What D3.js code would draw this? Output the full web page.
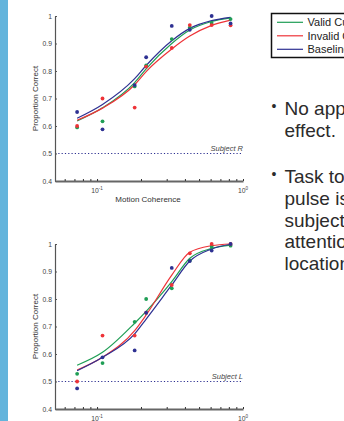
<!DOCTYPE html>
<html>
<head>
<meta charset="utf-8">
<script src="https://cdn.jsdelivr.net/npm/d3@7/dist/d3.min.js"></script>
<style>
body { margin: 0; background: #ffffff; }
#chart { width: 344px; height: 421px; overflow: hidden; }
text { font-family: "Liberation Sans", Arial, sans-serif; }
</style>
</head>
<body>
<div id="chart"></div>
<script>

/*
DATA
*/
const coherence = [0.073, 0.109, 0.181, 0.217, 0.325, 0.432, 0.610, 0.822];

// subject R - measured points
const validR_pts   = [0.595, 0.617, 0.744, 0.820, 0.916, 0.958, 0.975, 0.989];
const invalidR_pts = [0.600, 0.700, 0.667, 0.816, 0.884, 0.967, 0.967, 0.966];
const baseR_pts    = [0.651, 0.588, 0.749, 0.850, 0.964, 0.950, 1.000, 0.973];
// subject R - fitted curves
const validR_fit   = [0.618, 0.666, 0.758, 0.808, 0.900, 0.949, 0.980, 0.993];
const invalidR_fit = [0.621, 0.665, 0.750, 0.798, 0.880, 0.927, 0.966, 0.985];
const baseR_fit    = [0.628, 0.678, 0.772, 0.820, 0.910, 0.955, 0.983, 0.995];

// subject L - measured points
const validL_pts   = [0.528, 0.567, 0.717, 0.800, 0.839, 0.940, 0.990, 0.994];
const invalidL_pts = [0.500, 0.667, 0.667, 0.750, 0.851, 0.966, 1.000, 1.000];
const baseL_pts    = [0.475, 0.588, 0.613, 0.750, 0.913, 0.938, 0.976, 1.000];
// subject L - fitted curves
const validL_fit   = [0.559, 0.606, 0.712, 0.755, 0.863, 0.948, 0.984, 0.996];
const invalidL_fit = [0.542, 0.588, 0.685, 0.742, 0.887, 0.970, 0.994, 1.000];
const baseL_fit    = [0.539, 0.588, 0.673, 0.727, 0.851, 0.938, 0.982, 0.999];

const yTicks = [0.4, 0.5, 0.6, 0.7, 0.8, 0.9, 1];
const yTickLabels = ["0.4", "0.5", "0.6", "0.7", "0.8", "0.9", "1"];
const xMinorTicks = [0.06, 0.07, 0.08, 0.09, 0.1, 0.2, 0.3, 0.4, 0.5, 0.6, 0.7, 0.8, 0.9, 1];
const xLabels = [{v: 0.1, exp: "-1"}, {v: 1, exp: "0"}];

const legendNames = ["Valid Cue", "Invalid Cue", "Baseline"];
const colors = ["#1f9e55", "#ee3338", "#2e3192"];

const bullet1 = ["No apparent cueing", "effect."];
const bullet2 = ["Task too easy? Once the", "pulse is shown the", "subject can shift", "attention to either", "location."];


/*
CREATE SVG CANVAS
*/
const width = 344;
const height = 421;

const svg = d3.select("#chart")
    .append("svg")
    .attr("width", width)
    .attr("height", height);

svg.append("rect")
    .attr("x", 0)
    .attr("y", 0)
    .attr("width", 8)
    .attr("height", height)
    .attr("fill", "#63b4dc");

const xScale = d3.scaleLog()
    .domain([0.0515, 1])
    .range([55, 243]);


/*
DRAW ONE PANEL
*/
function drawPanel(top, bottom, pts, fits, subject) {

    const yScale = d3.scaleLinear()
        .domain([0.4, 1])
        .range([bottom, top]);

    const g = svg.append("g");

    // chance line
    g.append("line")
        .attr("x1", xScale(0.0515))
        .attr("x2", xScale(1))
        .attr("y1", yScale(0.5))
        .attr("y2", yScale(0.5))
        .attr("stroke", "#2e3192")
        .attr("stroke-width", 1.2)
        .attr("stroke-dasharray", "1.2,2.1");

    g.append("text")
        .attr("x", xScale(1))
        .attr("y", yScale(0.5) - 2.5)
        .attr("text-anchor", "end")
        .attr("font-size", "7.5px")
        .attr("font-style", "italic")
        .attr("fill", "#444")
        .text(subject);

    // axes
    const yAxis = g.append("g")
        .attr("transform", `translate(${xScale(0.0515)},0)`)
        .call(d3.axisLeft(yScale)
            .tickValues(yTicks)
            .tickFormat(function(d, i) { return yTickLabels[i]; })
            .tickSize(-2)
            .tickSizeOuter(0)
            .tickPadding(3));
    yAxis.select(".domain").attr("stroke", "#555").attr("stroke-width", 1.2);
    yAxis.selectAll(".tick line").attr("stroke", "#555");
    yAxis.selectAll(".tick text")
        .attr("font-size", "6.8px")
        .attr("font-family", "Liberation Sans, Arial, sans-serif")
        .attr("fill", "#444");

    const xAxis = g.append("g")
        .attr("transform", `translate(0,${bottom})`)
        .call(d3.axisBottom(xScale)
            .tickValues(xMinorTicks)
            .tickFormat("")
            .tickSize(-2)
            .tickSizeOuter(0));
    xAxis.select(".domain").attr("stroke", "#666").attr("stroke-width", 2);
    xAxis.selectAll(".tick line").attr("stroke", "#333");

    xLabels.forEach(function(l) {
        const t = g.append("text")
            .attr("x", xScale(l.v))
            .attr("y", bottom + 12)
            .attr("text-anchor", "middle")
            .attr("font-size", "6.8px")
            .attr("fill", "#444");
        t.append("tspan").text("10");
        t.append("tspan")
            .attr("dy", -3)
            .attr("font-size", "4.5px")
            .text(l.exp);
    });

    g.append("text")
        .attr("transform", "rotate(-90)")
        .attr("x", -(top + bottom) / 2)
        .attr("y", 38)
        .attr("text-anchor", "middle")
        .attr("font-size", "8px")
        .attr("fill", "#333")
        .text("Proportion Correct");

    // fitted curves
    const line = d3.line()
        .x(function(d) { return xScale(d[0]); })
        .y(function(d) { return yScale(d[1]); })
        .curve(d3.curveMonotoneX);

    fits.forEach(function(f, i) {
        g.append("path")
            .datum(d3.zip(coherence, f))
            .attr("d", line)
            .attr("fill", "none")
            .attr("stroke", colors[i])
            .attr("stroke-width", 1.2);
    });

    // data points
    pts.forEach(function(p, i) {
        g.selectAll(null)
            .data(d3.zip(coherence, p))
            .enter()
            .append("circle")
                .attr("cx", function(d) { return xScale(d[0]); })
                .attr("cy", function(d) { return yScale(d[1]); })
                .attr("r", 1.9)
                .attr("fill", colors[i]);
    });
}

drawPanel(16, 181,
    [validR_pts, invalidR_pts, baseR_pts],
    [validR_fit, invalidR_fit, baseR_fit],
    "Subject R");

drawPanel(244, 409,
    [validL_pts, invalidL_pts, baseL_pts],
    [validL_fit, invalidL_fit, baseL_fit],
    "Subject L");

svg.append("text")
    .attr("x", xScale(0.1) + 51)
    .attr("y", 201.5)
    .attr("text-anchor", "middle")
    .attr("font-size", "8px")
    .attr("fill", "#333")
    .text("Motion Coherence");


/*
LEGEND
*/
const legend = svg.append("g");

legend.append("rect")
    .attr("x", 271.5)
    .attr("y", 13.5)
    .attr("width", 100)
    .attr("height", 44)
    .attr("fill", "#fff")
    .attr("stroke", "#111")
    .attr("stroke-width", 1.5);

legendNames.forEach(function(name, i) {
    const y = 22.3 + i * 13.5;
    legend.append("line")
        .attr("x1", 277)
        .attr("x2", 303)
        .attr("y1", y)
        .attr("y2", y)
        .attr("stroke", colors[i])
        .attr("stroke-width", 1.2);
    legend.append("text")
        .attr("x", 307.5)
        .attr("y", y + 3.8)
        .attr("font-size", "11px")
        .attr("fill", "#222")
        .text(name);
});


/*
BULLET TEXT
*/
function drawBullet(lines, baseline) {
    svg.append("text")
        .attr("x", 271.5)
        .attr("y", baseline - 4)
        .attr("font-size", "14px")
        .attr("fill", "#2b2b2b")
        .text("•");
    const t = svg.append("text")
        .attr("x", 284.5)
        .attr("y", baseline)
        .attr("font-size", "19px")
        .attr("fill", "#2b2b2b");
    lines.forEach(function(l, i) {
        t.append("tspan")
            .attr("x", 284.5)
            .attr("dy", i === 0 ? 0 : 21.8)
            .text(l);
    });
}

drawBullet(bullet1, 115);
drawBullet(bullet2, 183);

</script>
</body>
</html>
